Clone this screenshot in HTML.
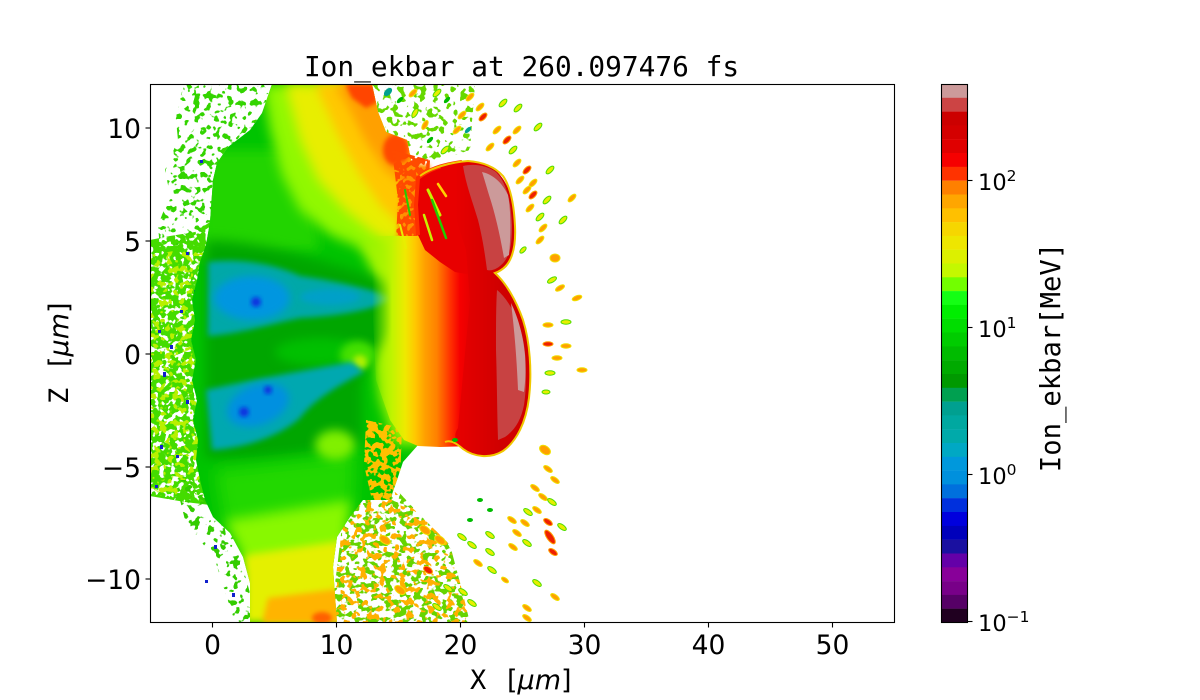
<!DOCTYPE html>
<html><head><meta charset="utf-8"><style>
html,body{margin:0;padding:0;background:#fff;width:1200px;height:700px;overflow:hidden}
svg{position:absolute;left:0;top:0}
.o{fill:#ffa000;stroke:#f0e000;stroke-width:1}
.y{fill:#e8ee00;stroke:#50dd00;stroke-width:1}
.r{fill:#ee2000;stroke:#ffa000;stroke-width:1}
.g{fill:#00bb00}
.t{fill:#00a090}
</style></head><body>
<svg width="1200" height="700" viewBox="0 0 1200 700" xmlns="http://www.w3.org/2000/svg">
<defs>
<clipPath id="pc"><rect x="150.5" y="84.5" width="744" height="538"/></clipPath>
<clipPath id="bodyClip"><path d="M272,84 L372,84 L378,112 L386,132 L407,140 L412,165 L410,190 L418,200 L470,200 L470,440 L418,445 L403,462 L397,480 L390,500 L363,500 L350,517 L337,537 L333,567 L337,623 L250,623 L250,583 L243,557 L230,533 L213,517 L205,500 L200,480 L196,460 L198,440 L193,420 L197,400 L192,380 L196,360 L191,340 L195,320 L192,300 L197,280 L200,262 L206,245 L210,222 L213,180 L217,163 L228,147 L250,130 L262,113 Z"/></clipPath>
<filter id="b2" x="-30%" y="-30%" width="160%" height="160%"><feGaussianBlur stdDeviation="2"/></filter>
<filter id="b3" x="-30%" y="-30%" width="160%" height="160%"><feGaussianBlur stdDeviation="3"/></filter>
<filter id="b4" x="-30%" y="-30%" width="160%" height="160%"><feGaussianBlur stdDeviation="4"/></filter>
<filter id="b5" x="-30%" y="-30%" width="160%" height="160%"><feGaussianBlur stdDeviation="5"/></filter>
<filter id="b6" x="-30%" y="-30%" width="160%" height="160%"><feGaussianBlur stdDeviation="6"/></filter>
<filter id="b8" x="-30%" y="-30%" width="160%" height="160%"><feGaussianBlur stdDeviation="8"/></filter>
<filter id="spV" filterUnits="userSpaceOnUse" x="140" y="80" width="480" height="550" color-interpolation-filters="sRGB">
<feTurbulence type="fractalNoise" baseFrequency="0.17" numOctaves="2" seed="4" result="n"/>
<feColorMatrix in="n" type="matrix" values="0 0 0 0 0  0 0 0 0 0  0 0 0 0 0  20 0 0 0 -8.2" result="m"/>
<feComposite in="SourceGraphic" in2="m" operator="in"/>
</filter>
<filter id="spD" filterUnits="userSpaceOnUse" x="140" y="80" width="480" height="550" color-interpolation-filters="sRGB">
<feTurbulence type="fractalNoise" baseFrequency="0.16" numOctaves="2" seed="7" result="n"/>
<feColorMatrix in="n" type="matrix" values="0 0 0 0 0  0 0 0 0 0  0 0 0 0 0  20 0 0 0 -9" result="m"/>
<feComposite in="SourceGraphic" in2="m" operator="in"/>
</filter>
<filter id="spM" filterUnits="userSpaceOnUse" x="140" y="80" width="480" height="550" color-interpolation-filters="sRGB">
<feTurbulence type="fractalNoise" baseFrequency="0.14 0.17" numOctaves="2" seed="5" result="n"/>
<feColorMatrix in="n" type="matrix" values="0 0 0 0 0  0 0 0 0 0  0 0 0 0 0  20 0 0 0 -10.2" result="m"/>
<feComposite in="SourceGraphic" in2="m" operator="in"/>
</filter>
<filter id="spS" filterUnits="userSpaceOnUse" x="140" y="80" width="480" height="550" color-interpolation-filters="sRGB">
<feTurbulence type="fractalNoise" baseFrequency="0.15" numOctaves="2" seed="11" result="n"/>
<feColorMatrix in="n" type="matrix" values="0 0 0 0 0  0 0 0 0 0  0 0 0 0 0  20 0 0 0 -11.2" result="m"/>
<feComposite in="SourceGraphic" in2="m" operator="in"/>
</filter>
<linearGradient id="hotG" gradientUnits="userSpaceOnUse" x1="372" y1="0" x2="472" y2="0">
<stop offset="0" stop-color="#a0f400" stop-opacity="0"/>
<stop offset="0.2" stop-color="#c0f400"/>
<stop offset="0.33" stop-color="#eeea00"/>
<stop offset="0.43" stop-color="#ffc800"/>
<stop offset="0.53" stop-color="#ffa000"/>
<stop offset="0.65" stop-color="#ff8000"/>
<stop offset="0.78" stop-color="#ff3300"/>
<stop offset="0.88" stop-color="#f60000"/>
<stop offset="1" stop-color="#e40000"/>
</linearGradient>
<linearGradient id="bubG" gradientUnits="userSpaceOnUse" x1="455" y1="0" x2="500" y2="0">
<stop offset="0" stop-color="#e80000"/>
<stop offset="1" stop-color="#d00000"/>
</linearGradient>
</defs>

<g clip-path="url(#pc)">
<!-- speckle zones -->
<g filter="url(#spS)"><path d="M185,84 L272,84 L262,113 L250,130 L228,147 L217,163 L213,180 L210,222 L195,240 L160,250 L158,225 L170,195 L165,170 L178,140 L175,110 Z" fill="#33d400"/></g>
<g filter="url(#spV)"><path d="M150,240 L170,236 L195,232 L210,222 L212,500 L210,505 L185,502 L150,496 Z" fill="#44dc00"/></g>
<g filter="url(#spS)"><path d="M150,255 L210,245 L210,500 L150,495 Z" fill="#b8f000"/></g>
<g filter="url(#spS)"><path d="M372,84 L475,84 L470,150 L440,160 L410,160 L386,132 L378,112 Z" fill="#66d800"/></g>
<g filter="url(#spS)"><path d="M175,480 L215,480 L235,540 L252,600 L250,623 L235,623 L215,560 L185,520 Z" fill="#33cc00"/></g>
<g filter="url(#spM)"><path d="M345,500 L395,488 L420,515 L450,545 L462,590 L470,623 L330,623 L338,560 Z" fill="#66d400"/></g>
<g filter="url(#spS)"><path d="M345,505 L395,492 L420,515 L450,545 L462,590 L470,623 L330,623 L338,560 Z" fill="#ffb000"/></g>

<!-- blue specks left -->
<g fill="#1020cc">
<rect x="170" y="345" width="3" height="4"/><rect x="163" y="372" width="3" height="5"/><rect x="158" y="330" width="3" height="3"/>
<rect x="186" y="400" width="3" height="4"/><rect x="160" y="445" width="3" height="4"/><rect x="176" y="455" width="3" height="3"/>
<rect x="194" y="290" width="3" height="4"/><rect x="186" y="252" width="3" height="3"/><rect x="200" y="160" width="3" height="3"/>
<rect x="214" y="545" width="3" height="4"/><rect x="205" y="580" width="3" height="3"/><rect x="232" y="593" width="3" height="4"/>
<rect x="155" y="485" width="3" height="3"/><rect x="180" y="310" width="3" height="3"/>
</g>

<!-- main body -->
<g clip-path="url(#bodyClip)">
<rect x="150" y="84" width="330" height="540" fill="#00c400"/>
<path d="M200,150 L300,150 L320,250 L200,260 Z" fill="#22d400" filter="url(#b6)"/>
<path d="M262,84 L430,84 L430,280 L398,275 L365,250 L330,235 L300,210 L282,175 L270,130 Z" fill="#90f800" filter="url(#b6)"/>
<path d="M285,84 L430,84 L430,265 L400,258 L372,232 L345,210 L318,180 L300,140 Z" fill="#e8ee00" filter="url(#b6)"/>
<path d="M315,84 L430,84 L430,230 L400,225 L380,205 L360,175 L338,135 Z" fill="#ffc800" filter="url(#b5)"/>
<path d="M335,84 L430,84 L430,190 L405,185 L385,170 L365,140 L350,110 Z" fill="#ffa000" filter="url(#b5)"/>
<path d="M345,84 L374,84 L378,102 L366,108 L352,98 Z" fill="#ff4400" filter="url(#b2)"/>
<ellipse cx="396" cy="150" rx="13" ry="16" fill="#ff4800" filter="url(#b2)"/>
<path d="M360,240 L430,240 L430,445 L395,445 L380,400 L372,340 L378,290 Z" fill="#a0f400" filter="url(#b6)"/>
<path d="M205,240 C260,240 330,262 398,285 L402,330 C385,340 368,360 362,385 L362,445 C300,455 250,462 205,458 Z" fill="#00a600" filter="url(#b6)"/>
<ellipse cx="320" cy="352" rx="45" ry="14" fill="#00c000" filter="url(#b5)"/>
<ellipse cx="358" cy="355" rx="18" ry="14" fill="#44e000" filter="url(#b4)"/>
<ellipse cx="360" cy="362" rx="7" ry="7" fill="#b0f000" filter="url(#b3)"/>
<path d="M208,262 C240,258 275,264 300,276 C330,280 365,287 394,298 C375,310 340,316 300,318 C270,324 240,334 208,336 Z" fill="#00a8a8" filter="url(#b3)"/>
<ellipse cx="252" cy="298" rx="38" ry="22" fill="#0096e0" filter="url(#b4)"/>
<ellipse cx="330" cy="297" rx="30" ry="8" fill="#00a0c8" filter="url(#b3)"/>
<circle cx="256" cy="302" r="5" fill="#1030e0" filter="url(#b2)"/>
<path d="M206,390 C240,382 295,372 352,362 L364,372 C345,382 315,398 300,418 C280,436 245,448 212,450 Z" fill="#00a8b0" filter="url(#b3)"/>
<ellipse cx="258" cy="405" rx="32" ry="20" transform="rotate(-20 258 405)" fill="#0090e0" filter="url(#b4)"/>
<circle cx="244" cy="412" r="5" fill="#1030e0" filter="url(#b2)"/>
<circle cx="268" cy="390" r="4" fill="#1030e0" filter="url(#b2)"/>
<path d="M215,470 L355,455 L352,515 L225,530 Z" fill="#22d800" filter="url(#b8)"/>
<path d="M225,520 L350,500 L345,560 L250,575 Z" fill="#88f800" filter="url(#b6)"/>
<path d="M245,555 L348,540 L345,623 L245,623 Z" fill="#e4f000" filter="url(#b4)"/>
<path d="M268,598 L345,588 L345,623 L262,623 Z" fill="#ffb400" filter="url(#b3)"/>
<ellipse cx="322" cy="618" rx="10" ry="6" fill="#ff6000" filter="url(#b2)"/>
<ellipse cx="335" cy="445" rx="20" ry="15" fill="#80f000" filter="url(#b5)"/>
<g filter="url(#spD)"><path d="M366,420 L402,428 L400,482 L390,505 L372,500 L364,465 Z" fill="#ffc000"/></g>
</g>

<!-- hot region -->
<path d="M398,162 L430,165 L430,248 L396,248 L400,200 Z" fill="#ff9000" filter="url(#b2)"/>
<g filter="url(#spV)"><path d="M392,150 L430,160 L425,255 L395,258 L398,200 Z" fill="#ff4a00"/></g>
<path d="M372,236 L472,236 L472,446 L440,447 L418,446 L404,440 L390,420 L376,380 L372,300 Z" fill="url(#hotG)"/>
<path d="M418,178 C428,170 440,165 462,162 L472,162 L472,275 L455,272 L440,262 L425,250 L418,235 Z" fill="#e80000"/>
<path d="M418,235 L416,205 L418,178 C428,170 440,165 462,162" fill="none" stroke="#ff3000" stroke-width="4"/>
<g fill="none" stroke-linecap="round">
<path d="M428,190 L440,215" stroke="#c8f000" stroke-width="3"/>
<path d="M432,200 L446,238" stroke="#22cc00" stroke-width="2.5"/>
<path d="M424,215 L432,240" stroke="#c8f000" stroke-width="2.5"/>
<path d="M438,184 L446,196" stroke="#ffd000" stroke-width="2.5"/>
<path d="M405,190 L410,215" stroke="#22cc00" stroke-width="2"/>
<path d="M400,225 L406,248" stroke="#e8ee00" stroke-width="2"/>
</g>

<!-- bubble -->
<path d="M440,166 C452,162 468,160 482,163 C494,166 503,176 509,190 C514,204 516,226 514,246 C512,259 506,267 495,273 C506,283 516,300 523,320 C530,342 532,372 529,398 C526,422 517,441 503,451 C490,459 474,457 463,449 C455,442 453,435 458,428 L470,300 L466,250 L450,200 Z" fill="url(#bubG)"/>
<path d="M420,176 C430,168 452,162 468,161 C482,162 494,166 503,176 C510,186 514,204 515,226 C516,246 512,259 506,266 C502,270 498,272 495,273 C506,283 516,300 523,320 C530,342 532,372 529,398 C526,422 517,441 503,451 C490,459 474,457 463,449 C455,442 450,440 445,442" fill="none" stroke="#f0c800" stroke-width="2"/>
<path d="M463,166 C475,163 488,166 496,172 C506,182 511,200 512,225 C512,245 510,258 500,266 C495,270 490,271 487,270 C485,255 483,240 478,220 C472,200 466,185 463,166 Z" fill="#c84242"/>
<path d="M482,172 C492,174 502,182 508,195 C511,210 511,235 509,255 L504,258 C500,235 495,213 489,195 C486,185 484,178 482,172 Z" fill="#cc9a9a"/>
<path d="M497,290 C507,298 517,315 522,335 C527,355 527,385 524,405 C521,420 515,430 505,437 L498,440 C497,410 497,380 496,350 C496,325 496,305 497,290 Z" fill="#c84242"/>
<path d="M511,303 C517,315 523,333 525,355 C526,372 525,385 524,392 L518,390 C517,365 515,335 511,303 Z" fill="#cc9a9a"/>

<!-- upper dashes -->
<g>
<ellipse class="o" cx="413" cy="93" rx="5" ry="2.3" transform="rotate(-45 413 93)"/>
<ellipse class="y" cx="437" cy="93" rx="5" ry="2.3" transform="rotate(-45 437 93)"/>
<ellipse class="g" cx="447" cy="100" rx="4" ry="2" transform="rotate(-45 447 100)"/>
<ellipse class="o" cx="470" cy="97" rx="5" ry="2.3" transform="rotate(-45 470 97)"/>
<ellipse class="o" cx="480" cy="107" rx="5" ry="2.3" transform="rotate(-45 480 107)"/>
<ellipse class="r" cx="483" cy="117" rx="5" ry="2.5" transform="rotate(-45 483 117)"/>
<ellipse class="y" cx="503" cy="103" rx="5" ry="2.3" transform="rotate(-45 503 103)"/>
<ellipse class="y" cx="518" cy="108" rx="5" ry="2.3" transform="rotate(-45 518 108)"/>
<ellipse class="y" cx="538" cy="127" rx="5" ry="2.3" transform="rotate(-45 538 127)"/>
<ellipse class="o" cx="457" cy="130" rx="5" ry="2.3" transform="rotate(-45 457 130)"/>
<ellipse class="t" cx="468" cy="130" rx="4" ry="2" transform="rotate(-45 468 130)"/>
<ellipse class="o" cx="497" cy="130" rx="5" ry="2.3" transform="rotate(-45 497 130)"/>
<ellipse class="r" cx="507" cy="140" rx="5" ry="2.5" transform="rotate(-45 507 140)"/>
<ellipse class="o" cx="517" cy="130" rx="5" ry="2.3" transform="rotate(-45 517 130)"/>
<ellipse class="o" cx="490" cy="147" rx="5" ry="2.3" transform="rotate(-45 490 147)"/>
<ellipse class="y" cx="513" cy="150" rx="5" ry="2.3" transform="rotate(-45 513 150)"/>
<ellipse class="o" cx="517" cy="163" rx="5" ry="2.3" transform="rotate(-45 517 163)"/>
<ellipse class="r" cx="527" cy="170" rx="5" ry="2.5" transform="rotate(-45 527 170)"/>
<ellipse class="o" cx="520" cy="180" rx="5" ry="2.3" transform="rotate(-45 520 180)"/>
<ellipse class="o" cx="533" cy="183" rx="5" ry="2.3" transform="rotate(-45 533 183)"/>
<ellipse class="y" cx="550" cy="170" rx="5" ry="2.3" transform="rotate(-45 550 170)"/>
<ellipse class="o" cx="527" cy="190" rx="5" ry="2.3" transform="rotate(-45 527 190)"/>
<ellipse class="r" cx="533" cy="195" rx="5" ry="2.5" transform="rotate(-45 533 195)"/>
<ellipse class="o" cx="530" cy="208" rx="5" ry="2.3" transform="rotate(-45 530 208)"/>
<ellipse class="y" cx="547" cy="200" rx="5" ry="2.3" transform="rotate(-45 547 200)"/>
<ellipse class="y" cx="540" cy="217" rx="5" ry="2.3" transform="rotate(-45 540 217)"/>
<ellipse class="y" cx="563" cy="220" rx="5" ry="2.3" transform="rotate(-45 563 220)"/>
<ellipse class="o" cx="572" cy="198" rx="5" ry="2.3" transform="rotate(-45 572 198)"/>
<ellipse class="o" cx="543" cy="228" rx="5" ry="2.3" transform="rotate(-45 543 228)"/>
<ellipse class="o" cx="540" cy="240" rx="5" ry="2.3" transform="rotate(-45 540 240)"/>
<ellipse class="o" cx="555" cy="258" rx="5" ry="4"/>
<ellipse class="y" cx="552" cy="280" rx="5" ry="2.3" transform="rotate(-30 552 280)"/>
<ellipse class="o" cx="560" cy="288" rx="5" ry="2.3" transform="rotate(-30 560 288)"/>
<ellipse class="o" cx="577" cy="298" rx="5" ry="2.3" transform="rotate(-20 577 298)"/>
<ellipse class="y" cx="415" cy="113" rx="5" ry="2.3" transform="rotate(-60 415 113)"/>
<ellipse class="o" cx="425" cy="125" rx="5" ry="2.3" transform="rotate(-60 425 125)"/>
<ellipse class="y" cx="445" cy="150" rx="5" ry="2.3" transform="rotate(-45 445 150)"/>
<ellipse class="o" cx="462" cy="115" rx="5" ry="2.3" transform="rotate(-45 462 115)"/>
<ellipse class="g" cx="400" cy="100" rx="4" ry="2" transform="rotate(-45 400 100)"/>
<ellipse class="t" cx="388" cy="92" rx="5" ry="3" transform="rotate(-45 388 92)"/>
<ellipse class="g" cx="430" cy="140" rx="4" ry="2" transform="rotate(-45 430 140)"/>
<ellipse class="y" cx="523" cy="250" rx="4" ry="2" transform="rotate(-45 523 250)"/>
</g>

<!-- right-mid dashes -->
<ellipse class="o" cx="548" cy="325" rx="5" ry="2.2"/>
<ellipse class="y" cx="566" cy="322" rx="5" ry="2.2"/>
<ellipse class="r" cx="548" cy="344" rx="5" ry="2.2"/>
<ellipse class="o" cx="566" cy="346" rx="5" ry="2.2"/>
<ellipse class="o" cx="557" cy="358" rx="5" ry="2.2"/>
<ellipse class="y" cx="550" cy="373" rx="5" ry="2.2"/>
<ellipse class="o" cx="582" cy="370" rx="5" ry="2.2"/>
<ellipse class="y" cx="546" cy="392" rx="4" ry="2"/>

<!-- lower dashes -->
<g>
<ellipse class="o" cx="545" cy="450" rx="6" ry="4" transform="rotate(35 545 450)"/>
<ellipse class="o" cx="548" cy="469" rx="5" ry="2.3" transform="rotate(35 548 469)"/>
<ellipse class="o" cx="555" cy="480" rx="5" ry="2.3" transform="rotate(35 555 480)"/>
<ellipse class="o" cx="535" cy="488" rx="5" ry="2.3" transform="rotate(35 535 488)"/>
<ellipse class="o" cx="543" cy="497" rx="5" ry="2.3" transform="rotate(35 543 497)"/>
<ellipse class="y" cx="552" cy="502" rx="5" ry="2.3" transform="rotate(35 552 502)"/>
<ellipse class="o" cx="537" cy="510" rx="5" ry="2.3" transform="rotate(35 537 510)"/>
<ellipse class="y" cx="528" cy="512" rx="5" ry="2.3" transform="rotate(35 528 512)"/>
<ellipse class="r" cx="548" cy="522" rx="5" ry="2.5" transform="rotate(35 548 522)"/>
<ellipse class="y" cx="562" cy="527" rx="5" ry="2.3" transform="rotate(35 562 527)"/>
<ellipse class="r" cx="550" cy="537" rx="8" ry="3.2" transform="rotate(55 550 537)"/>
<ellipse class="r" cx="553" cy="552" rx="5" ry="2.5" transform="rotate(35 553 552)"/>
<ellipse class="o" cx="512" cy="520" rx="5" ry="2.3" transform="rotate(35 512 520)"/>
<ellipse class="o" cx="525" cy="523" rx="5" ry="2.3" transform="rotate(35 525 523)"/>
<ellipse class="o" cx="517" cy="533" rx="5" ry="2.3" transform="rotate(35 517 533)"/>
<ellipse class="y" cx="527" cy="543" rx="5" ry="2.3" transform="rotate(35 527 543)"/>
<ellipse class="o" cx="513" cy="547" rx="5" ry="2.3" transform="rotate(35 513 547)"/>
<ellipse class="y" cx="490" cy="535" rx="5" ry="2.3" transform="rotate(35 490 535)"/>
<ellipse class="y" cx="462" cy="537" rx="5" ry="2.3" transform="rotate(35 462 537)"/>
<ellipse class="y" cx="472" cy="545" rx="5" ry="2.3" transform="rotate(35 472 545)"/>
<ellipse class="y" cx="490" cy="552" rx="5" ry="2.3" transform="rotate(35 490 552)"/>
<ellipse class="o" cx="478" cy="563" rx="5" ry="2.3" transform="rotate(35 478 563)"/>
<ellipse class="y" cx="492" cy="570" rx="5" ry="2.3" transform="rotate(35 492 570)"/>
<ellipse class="y" cx="537" cy="583" rx="5" ry="2.3" transform="rotate(35 537 583)"/>
<ellipse class="o" cx="555" cy="597" rx="5" ry="2.3" transform="rotate(35 555 597)"/>
<ellipse class="o" cx="527" cy="608" rx="5" ry="2.3" transform="rotate(35 527 608)"/>
<ellipse class="y" cx="448" cy="588" rx="5" ry="2.3" transform="rotate(35 448 588)"/>
<ellipse class="y" cx="463" cy="592" rx="5" ry="2.3" transform="rotate(35 463 592)"/>
<ellipse class="y" cx="472" cy="603" rx="5" ry="2.3" transform="rotate(35 472 603)"/>
<ellipse class="y" cx="437" cy="607" rx="5" ry="2.3" transform="rotate(35 437 607)"/>
<ellipse class="o" cx="527" cy="618" rx="5" ry="2.3" transform="rotate(35 527 618)"/>
<ellipse class="o" cx="505" cy="580" rx="4" ry="2" transform="rotate(35 505 580)"/>
<ellipse class="g" cx="480" cy="500" rx="3" ry="2"/>
<ellipse class="g" cx="490" cy="510" rx="3" ry="2"/>
<ellipse class="g" cx="470" cy="520" rx="3" ry="2"/>
<ellipse class="g" cx="455" cy="440" rx="3" ry="2"/>
<ellipse class="o" cx="440" cy="540" rx="6" ry="3.5" transform="rotate(35 440 540)"/>
<ellipse class="o" cx="425" cy="530" rx="6" ry="3.5" transform="rotate(35 425 530)"/>
<ellipse class="r" cx="428" cy="570" rx="5" ry="3" transform="rotate(35 428 570)"/>
<ellipse class="o" cx="400" cy="590" rx="6" ry="3.5" transform="rotate(35 400 590)"/>
<ellipse class="o" cx="385" cy="540" rx="6" ry="3.5" transform="rotate(35 385 540)"/>
</g>
</g>

<!-- frame -->
<rect x="150.5" y="84.5" width="744" height="538" fill="none" stroke="#000" stroke-width="1.1"/>
<g stroke="#000" stroke-width="1.1">
<line x1="212.5" y1="622.5" x2="212.5" y2="627.5"/>
<line x1="336.5" y1="622.5" x2="336.5" y2="627.5"/>
<line x1="460.5" y1="622.5" x2="460.5" y2="627.5"/>
<line x1="584.5" y1="622.5" x2="584.5" y2="627.5"/>
<line x1="708.5" y1="622.5" x2="708.5" y2="627.5"/>
<line x1="832.5" y1="622.5" x2="832.5" y2="627.5"/>
<line x1="145.5" y1="128" x2="150.5" y2="128"/>
<line x1="145.5" y1="241" x2="150.5" y2="241"/>
<line x1="145.5" y1="354" x2="150.5" y2="354"/>
<line x1="145.5" y1="467" x2="150.5" y2="467"/>
<line x1="145.5" y1="579" x2="150.5" y2="579"/>
</g>
<g font-family="DejaVu Sans, Liberation Sans, sans-serif" font-size="26.5" fill="#000">
<text x="212.5" y="654" text-anchor="middle">0</text>
<text x="336.5" y="654" text-anchor="middle">10</text>
<text x="460.5" y="654" text-anchor="middle">20</text>
<text x="584.5" y="654" text-anchor="middle">30</text>
<text x="708.5" y="654" text-anchor="middle">40</text>
<text x="832.5" y="654" text-anchor="middle">50</text>
<text x="141" y="138" text-anchor="end">10</text>
<text x="141" y="251" text-anchor="end">5</text>
<text x="141" y="364" text-anchor="end">0</text>
<text x="141" y="477" text-anchor="end">−5</text>
<text x="141" y="589" text-anchor="end">−10</text>
</g>
<text x="521.5" y="76" text-anchor="middle" font-family="DejaVu Sans Mono, Liberation Mono, monospace" font-size="27.8">Ion_ekbar at 260.097476 fs</text>
<text x="470" y="689" font-size="27" font-family="DejaVu Sans, Liberation Sans, sans-serif"><tspan font-family="DejaVu Sans Mono, Liberation Mono, monospace">X</tspan><tspan x="507">[</tspan><tspan font-style="italic">μm</tspan><tspan>]</tspan></text>
<text transform="translate(68,404) rotate(-90)" font-size="27" font-family="DejaVu Sans, Liberation Sans, sans-serif"><tspan x="0" y="0" font-family="DejaVu Sans Mono, Liberation Mono, monospace">Z</tspan><tspan x="37" y="0">[</tspan><tspan font-style="italic">μm</tspan><tspan>]</tspan></text>

<!-- colorbar -->
<g>
<rect x="941.5" y="84" width="26" height="14" fill="#cc9a9a"/>
<rect x="941.5" y="97.8" width="26" height="14" fill="#cc4444"/>
<rect x="941.5" y="111.6" width="26" height="14" fill="#cc0000"/>
<rect x="941.5" y="125.4" width="26" height="14" fill="#d40000"/>
<rect x="941.5" y="139.2" width="26" height="14" fill="#e00000"/>
<rect x="941.5" y="153.0" width="26" height="14" fill="#f60000"/>
<rect x="941.5" y="166.8" width="26" height="14" fill="#ff3300"/>
<rect x="941.5" y="180.7" width="26" height="14" fill="#ff8000"/>
<rect x="941.5" y="194.5" width="26" height="14" fill="#ffa600"/>
<rect x="941.5" y="208.3" width="26" height="14" fill="#ffc000"/>
<rect x="941.5" y="222.1" width="26" height="14" fill="#f6d600"/>
<rect x="941.5" y="235.9" width="26" height="14" fill="#eee600"/>
<rect x="941.5" y="249.7" width="26" height="14" fill="#dcf000"/>
<rect x="941.5" y="263.5" width="26" height="14" fill="#c4f800"/>
<rect x="941.5" y="277.3" width="26" height="14" fill="#72ff00"/>
<rect x="941.5" y="291.1" width="26" height="14" fill="#14ff14"/>
<rect x="941.5" y="304.9" width="26" height="14" fill="#00ee00"/>
<rect x="941.5" y="318.7" width="26" height="14" fill="#00dd00"/>
<rect x="941.5" y="332.5" width="26" height="14" fill="#00cc00"/>
<rect x="941.5" y="346.4" width="26" height="14" fill="#00bb00"/>
<rect x="941.5" y="360.2" width="26" height="14" fill="#00aa00"/>
<rect x="941.5" y="374.0" width="26" height="14" fill="#009900"/>
<rect x="941.5" y="387.8" width="26" height="14" fill="#00a050"/>
<rect x="941.5" y="401.6" width="26" height="14" fill="#00a090"/>
<rect x="941.5" y="415.4" width="26" height="14" fill="#00a8a0"/>
<rect x="941.5" y="429.2" width="26" height="14" fill="#00aaaa"/>
<rect x="941.5" y="443.0" width="26" height="14" fill="#00a8c4"/>
<rect x="941.5" y="456.8" width="26" height="14" fill="#0098dc"/>
<rect x="941.5" y="470.6" width="26" height="14" fill="#0090dd"/>
<rect x="941.5" y="484.4" width="26" height="14" fill="#0070dd"/>
<rect x="941.5" y="498.2" width="26" height="14" fill="#0030dd"/>
<rect x="941.5" y="512.0" width="26" height="14" fill="#0000dd"/>
<rect x="941.5" y="525.9" width="26" height="14" fill="#0000bb"/>
<rect x="941.5" y="539.7" width="26" height="14" fill="#1a10a0"/>
<rect x="941.5" y="553.5" width="26" height="14" fill="#6400a8"/>
<rect x="941.5" y="567.3" width="26" height="14" fill="#880099"/>
<rect x="941.5" y="581.1" width="26" height="14" fill="#780088"/>
<rect x="941.5" y="594.9" width="26" height="14" fill="#560066"/>
<rect x="941.5" y="608.7" width="26" height="13.8" fill="#200020"/>
</g>
<rect x="941.5" y="84.5" width="26" height="538" fill="none" stroke="#000" stroke-width="1.1"/>
<g stroke="#000" stroke-width="1.1">
<line x1="967.5" y1="180.5" x2="972.5" y2="180.5"/>
<line x1="967.5" y1="327.5" x2="972.5" y2="327.5"/>
<line x1="967.5" y1="474.5" x2="972.5" y2="474.5"/>
<line x1="967.5" y1="621.5" x2="972.5" y2="621.5"/>
</g>
<g font-family="DejaVu Sans, Liberation Sans, sans-serif" fill="#000">
<text x="978" y="190" font-size="22.5">10<tspan dy="-9" font-size="15.5">2</tspan></text>
<text x="978" y="337" font-size="22.5">10<tspan dy="-9" font-size="15.5">1</tspan></text>
<text x="978" y="484" font-size="22.5">10<tspan dy="-9" font-size="15.5">0</tspan></text>
<text x="978" y="631" font-size="22.5">10<tspan dy="-9" font-size="15.5">−1</tspan></text>
</g>
<text transform="translate(1060,357.5) rotate(-90)" text-anchor="middle" font-family="DejaVu Sans Mono, Liberation Mono, monospace" font-size="27.2">Ion_ekbar[MeV]</text>
</svg>
</body></html>
